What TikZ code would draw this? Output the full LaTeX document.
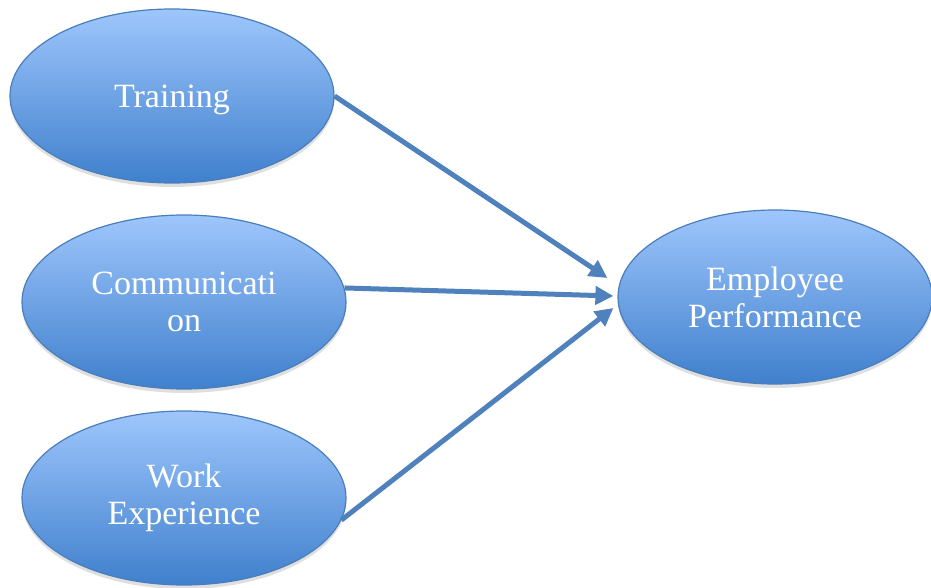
\documentclass[tikz,border=0pt]{standalone}
\usepackage{fontspec}
\setmainfont{Liberation Serif}
\usetikzlibrary{shapes.geometric,shadows,arrows.meta}

\definecolor{factortop}{RGB}{158,198,252}
\definecolor{factorbottom}{RGB}{64,128,205}
\definecolor{factorline}{RGB}{74,126,187}
\definecolor{linkblue}{RGB}{79,129,189}

\tikzset{
	factor/.style={ellipse, draw=factorline, line width=1.2pt,
		top color=factortop, bottom color=factorbottom,
		minimum width=324pt, minimum height=174pt, inner sep=0pt,
		align=center, text=white,
		font=\fontsize{34}{37}\selectfont,
		drop shadow={shadow xshift=0pt, shadow yshift=-4pt, opacity=0.25}},
	link/.style={draw=linkblue, line width=5pt,
		-{Triangle[length=18pt,width=18pt]}}
}

\begin{document}
\begin{tikzpicture}[x=1pt, y=-1pt]

	\useasboundingbox (0,0) rectangle (931,588);

	% the three factors on the left
	\node[factor, text height=30pt] (train) at (172,96) {Training};
	\node[factor] (comm) at (184,302) {Communicati\\on};
	\node[factor] (work) at (184,498) {Work\\Experience};

	% the outcome
	\node[factor, minimum width=314pt] (perf) at (775,297) {Employee\\Performance};

	\draw[link] (train.east) -- ([xshift=-10pt, yshift=19pt]perf.west);
	\draw[link] (comm.5) -- ([xshift=-4pt, yshift=1pt]perf.west);
	\draw[link] (work.-8) -- ([xshift=-4pt, yshift=-11pt]perf.west);

\end{tikzpicture}
\end{document}
